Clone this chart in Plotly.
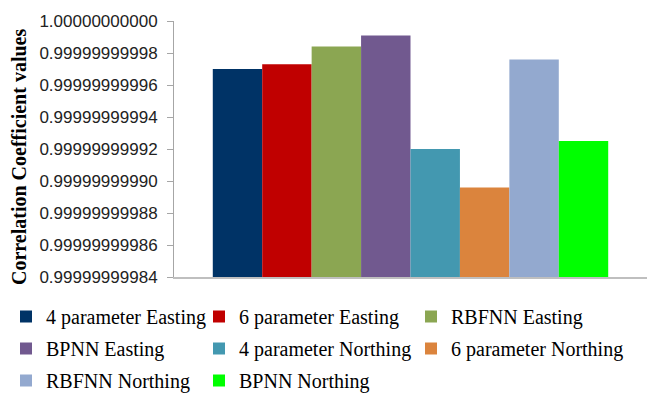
import plotly.graph_objects as go

# Correlation coefficients of the transformation methods
methods = [
    "4 parameter Easting", "6 parameter Easting", "RBFNN Easting", "BPNN Easting",
    "4 parameter Northing", "6 parameter Northing", "RBFNN Northing", "BPNN Northing",
]
corr_values = [
    0.99999999997, 0.999999999973, 0.999999999984, 0.999999999991,
    0.99999999992, 0.999999999896, 0.999999999976, 0.999999999925,
]
bar_colors = ["#003366", "#C00000", "#8BA652", "#71598F",
              "#4398B0", "#DB843D", "#93A9CF", "#00FF00"]
legend_ids = ["legend", "legend2", "legend3", "legend",
              "legend2", "legend3", "legend", "legend2"]
category = [""]

W, H = 650, 395
ML, MR, MT, MB = 174, 3, 21, 118
PW, PH = W - ML - MR, H - MT - MB


def px_x(p):
    return (p - ML) / PW


def px_y(p):
    return (H - MB - p) / PH


fig = go.Figure()
for i, (name, val, col, lg) in enumerate(zip(methods, corr_values, bar_colors, legend_ids)):
    fig.add_trace(go.Bar(
        x=category, y=[val], name=name,
        marker=dict(color=col, line=dict(width=0)),
        legend=lg, legendgroup=name,
    ))

legend_common = dict(
    orientation="v", yanchor="top", xanchor="left",
    font=dict(family="Liberation Serif", size=20, color="#000000"),
    bgcolor="rgba(0,0,0,0)", itemwidth=30, traceorder="grouped",
    tracegroupgap=3, itemclick=False,
)

fig.update_layout(
    width=W, height=H,
    margin=dict(l=ML, r=MR, t=MT, b=MB, autoexpand=False),
    paper_bgcolor="white", plot_bgcolor="white",
    barmode="group", bargap=0.164, bargroupgap=0,
    showlegend=True,
    legend=dict(x=px_x(6), y=px_y(297), **legend_common),
    legend2=dict(x=px_x(199), y=px_y(297), **legend_common),
    legend3=dict(x=px_x(411), y=px_y(297), **legend_common),
    xaxis=dict(
        showticklabels=False, ticks="", showgrid=False,
        showline=True, linecolor="#BFBFBF", linewidth=2,
    ),
    yaxis=dict(
        range=[0.99999999984, 1.0],
        tick0=0.99999999984, dtick=0.00000000002,
        tickformat=".11f",
        ticks="outside", ticklen=6, tickcolor="#A6A6A6",
        ticklabelstandoff=6,
        showgrid=False, zeroline=False,
        showline=True, linecolor="#A6A6A6", linewidth=1,
        tickfont=dict(family="Liberation Sans", size=17, color="#222222"),
    ),
    annotations=[dict(
        text="<b>Correlation Coefficient values</b>",
        xref="paper", yref="paper", x=px_x(19), y=px_y(157),
        xanchor="center", yanchor="middle", textangle=-90, showarrow=False,
        font=dict(family="Liberation Serif", size=20, color="#000000"),
    )],
)

fig.write_html("out.html")
